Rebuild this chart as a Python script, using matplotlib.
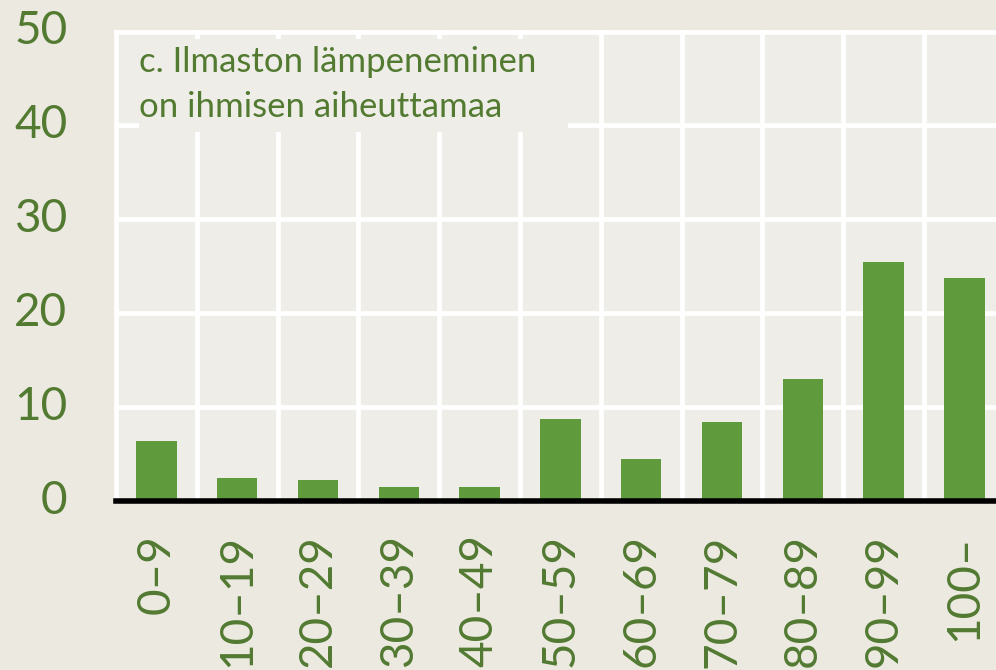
import matplotlib
matplotlib.use("Agg")
import matplotlib.pyplot as plt
import matplotlib.transforms as mtransforms
from matplotlib.patches import Rectangle

categories = ["0–9", "10–19", "20–29", "30–39", "40–49", "50–59",
              "60–69", "70–79", "80–89", "90–99", "100–"]
values = [6.4, 2.45, 2.2, 1.5, 1.5, 8.7, 4.5, 8.4, 13.0, 25.5, 23.8]
yticks = [0, 10, 20, 30, 40, 50]
title_lines = ["c. Ilmaston lämpeneminen", "on ihmisen aiheuttamaa"]

FIG_BG = "#ECE9E1"
AX_BG = "#EFEDE7"
BAR = "#5F9A3D"
TXT = "#527A31"

plt.rcParams['font.family'] = ['Lato', 'DejaVu Sans']

W, H = 996, 670
fig = plt.figure(figsize=(W / 100, H / 100), dpi=100, facecolor=FIG_BG)
left_px, right_px, bot_px, top_px = 116, 996, 501, 31.5
ax = fig.add_axes([left_px / W, (H - bot_px) / H,
                   (right_px - left_px) / W, (bot_px - top_px) / H])
ax.set_facecolor(AX_BG)

x = list(range(len(categories)))
ax.bar(x, values, width=0.5, color=BAR, zorder=3)

ax.set_xlim(-0.5, 10.39)
ax.set_ylim(0, 50)

# grid: horizontal at ticks, vertical at category boundaries
for yv in yticks[1:]:
    ax.axhline(yv, color="white", lw=3.4, zorder=1, clip_on=False)
for b in range(len(categories)):
    ax.axvline(b - 0.5, color="white", lw=3.4, zorder=1, clip_on=False)

# text box covering grid
ax.add_patch(Rectangle((-0.2166, 39.3), 5.31, 9.9, facecolor=AX_BG,
                       edgecolor="none", zorder=2))
ax.text(-0.2166, 45.7, title_lines[0], fontsize=25, color=TXT,
        ha="left", va="baseline", zorder=4)
ax.text(-0.2166, 40.9, title_lines[1], fontsize=25, color=TXT,
        ha="left", va="baseline", zorder=4)

ax.axhline(0, color="black", lw=4, zorder=5, clip_on=False)

for s in ax.spines.values():
    s.set_visible(False)

ax.set_xticks(x)
ax.set_xticklabels(categories, rotation=90, fontsize=33, color=TXT)
ax.set_yticks(yticks)
ax.set_yticklabels([str(t) for t in yticks], fontsize=33, color=TXT)
ax.tick_params(axis="x", length=0, pad=24)
ax.tick_params(axis="y", length=0, pad=35)

off = mtransforms.ScaledTranslation(0, 4 / 100, fig.dpi_scale_trans)
for lbl in ax.get_yticklabels():
    lbl.set_transform(lbl.get_transform() + off)

fig.savefig("out.png", dpi=100, facecolor=FIG_BG)
